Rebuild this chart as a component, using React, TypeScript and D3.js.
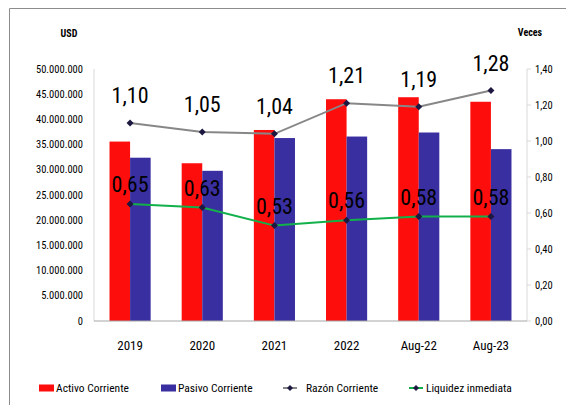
import * as d3 from 'd3';

const categories = ['2019', '2020', '2021', '2022', 'Aug-22', 'Aug-23'];
const activoCorriente = [35.6, 31.3, 37.9, 44.0, 44.4, 43.5].map((v) => v * 1e6);
const pasivoCorriente = [32.4, 29.8, 36.3, 36.6, 37.4, 34.1].map((v) => v * 1e6);
const razonCorriente = [1.1, 1.05, 1.04, 1.21, 1.19, 1.28];
const liquidezInmediata = [0.65, 0.63, 0.53, 0.56, 0.58, 0.58];
const usdTicks = d3.range(0, 50000001, 5000000);
const vecesTicks = d3.range(0, 1.41, 0.2);

const W = 566;
const H = 405;
const margin = { top: 69, right: 39, bottom: 84, left: 94 };
const FONT = "'Liberation Sans Narrow', 'Arial Narrow', 'Roboto Condensed', sans-serif";

const RED = '#fe0d0d';
const BLUE = '#3a2fa0';
const GRAY = '#878787';
const GREEN = '#12b04a';
const MARK = '#1c1840';

const fmtUsd = (v: number) => (v === 0 ? '0' : d3.format(',')(v).replace(/,/g, '.'));
const fmtVeces = (v: number) => v.toFixed(2).replace('.', ',');

function Diamond({ x, y, r = 3.5 }: { x: number; y: number; r?: number }) {
  return (
    <path
      d={`M${x},${y - r}L${x + r},${y}L${x},${y + r}L${x - r},${y}Z`}
      fill={MARK}
    />
  );
}

export default function App() {
  const innerW = W - margin.left - margin.right;
  const innerH = H - margin.top - margin.bottom;
  const x0 = margin.left;
  const x1 = margin.left + innerW;
  const yBase = margin.top + innerH;

  const xScale = d3.scaleBand<string>().domain(categories).range([x0, x1]).padding(0);
  const yUsd = d3.scaleLinear().domain([0, 50000000]).range([yBase, margin.top]);
  const yVeces = d3.scaleLinear().domain([0, 1.4]).range([yBase, margin.top]);

  const barW = xScale.bandwidth() * 0.285;
  const cx = (c: string) => (xScale(c) as number) + xScale.bandwidth() / 2;

  const razonLine = d3
    .line<number>()
    .x((_, i) => cx(categories[i]))
    .y((d) => yVeces(d));

  const legendY = 388;

  return (
    <svg
      width={W}
      height={H}
      style={{ position: 'absolute', left: 0, top: 0, background: '#fff' }}
      fontFamily={FONT}
    >
      <rect x={0} y={0} width={W} height={H} fill="#fff" />
      {/* outer frame */}
      <path d={`M9.5,${H}V8.5H${W}`} fill="none" stroke="#8c8c8c" strokeWidth={1} />

      <text x={69} y={37} textAnchor="middle" fontSize={10} fontWeight="bold" fill="#000">
        USD
      </text>
      <text x={530} y={36} textAnchor="middle" fontSize={10} fontWeight="bold" fill="#000">
        Veces
      </text>

      {/* left axis */}
      <line x1={x0} x2={x0} y1={margin.top} y2={yBase} stroke="#d9d9d9" />
      {usdTicks.map((t) => (
        <text
          key={t}
          x={83}
          y={yUsd(t)}
          dy="0.35em"
          textAnchor="end"
          fontSize={10.5}
          fill="#000"
        >
          {fmtUsd(t)}
        </text>
      ))}

      {/* right axis */}
      <line x1={x1} x2={x1} y1={margin.top} y2={yBase} stroke="#d9d9d9" />
      {vecesTicks.map((t) => (
        <g key={t}>
          <line x1={x1} x2={x1 + 4} y1={yVeces(t)} y2={yVeces(t)} stroke="#d9d9d9" />
          <text x={535} y={yVeces(t)} dy="0.35em" fontSize={10.5} fill="#000">
            {fmtVeces(t)}
          </text>
        </g>
      ))}

      {/* bars */}
      {categories.map((c, i) => (
        <g key={c}>
          <rect
            x={cx(c) - barW}
            y={yUsd(activoCorriente[i])}
            width={barW}
            height={yBase - yUsd(activoCorriente[i])}
            fill={RED}
          />
          <rect
            x={cx(c)}
            y={yUsd(pasivoCorriente[i])}
            width={barW}
            height={yBase - yUsd(pasivoCorriente[i])}
            fill={BLUE}
          />
        </g>
      ))}

      {/* bottom axis */}
      <line x1={x0} x2={x1} y1={yBase} y2={yBase} stroke="#a6a6a6" />
      {categories.map((c) => (
        <text key={c} x={cx(c)} y={350} textAnchor="middle" fontSize={13} fill="#000">
          {c}
        </text>
      ))}

      {/* lines */}
      <path d={razonLine(razonCorriente) || ''} fill="none" stroke={GRAY} strokeWidth={2} />
      <path d={razonLine(liquidezInmediata.map((v) => v)) || ''} fill="none" stroke={GREEN} strokeWidth={2} />
      {categories.map((c, i) => (
        <g key={c}>
          <Diamond x={cx(c)} y={yVeces(razonCorriente[i])} />
          <Diamond x={cx(c)} y={yVeces(liquidezInmediata[i])} />
          <text
            x={cx(c)}
            y={yVeces(razonCorriente[i]) - 20}
            textAnchor="middle"
            fontSize={22}
            fill="#000"
          >
            {fmtVeces(razonCorriente[i])}
          </text>
          <text
            x={cx(c)}
            y={yVeces(liquidezInmediata[i]) - 12}
            textAnchor="middle"
            fontSize={22}
            fill="#000"
          >
            {fmtVeces(liquidezInmediata[i])}
          </text>
        </g>
      ))}

      {/* legend */}
      <rect x={39} y={legendY - 3.5} width={15} height={7} fill={RED} />
      <text x={56} y={legendY} dy="0.35em" fontSize={11.5} fill="#000">
        Activo Corriente
      </text>
      <rect x={161} y={legendY - 3.5} width={15} height={7} fill={BLUE} />
      <text x={178} y={legendY} dy="0.35em" fontSize={11.5} fill="#000">
        Pasivo Corriente
      </text>
      <line x1={283} x2={297} y1={legendY} y2={legendY} stroke={GRAY} strokeWidth={2} />
      <Diamond x={290} y={legendY} r={3} />
      <text x={306} y={legendY} dy="0.35em" fontSize={11.5} fill="#000">
        Razón Corriente
      </text>
      <line x1={409} x2={423} y1={legendY} y2={legendY} stroke={GREEN} strokeWidth={2} />
      <Diamond x={416} y={legendY} r={3} />
      <text x={426} y={legendY} dy="0.35em" fontSize={11.5} fill="#000">
        Liquidez inmediata
      </text>
    </svg>
  );
}
